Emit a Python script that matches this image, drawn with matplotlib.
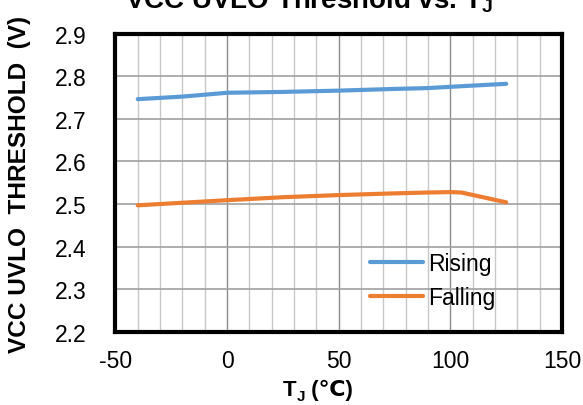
import matplotlib
matplotlib.use("Agg")
import matplotlib.pyplot as plt
from matplotlib.ticker import MultipleLocator

plt.rcParams['font.family'] = ['Liberation Sans', 'DejaVu Sans']
plt.rcParams['axes.unicode_minus'] = False
plt.rcParams['mathtext.fontset'] = 'custom'
plt.rcParams['mathtext.rm'] = 'Liberation Sans'
plt.rcParams['mathtext.bf'] = 'Liberation Sans:bold'

# Junction temperature (°C) and UVLO thresholds (V)
temp_rising = [-40, -20, 0, 25, 50, 75, 90, 100, 125]
rising = [2.746, 2.752, 2.761, 2.763, 2.766, 2.770, 2.772, 2.775, 2.782]

temp_falling = [-40, -20, 0, 25, 50, 75, 90, 100, 105, 125]
falling = [2.497, 2.503, 2.509, 2.516, 2.521, 2.525, 2.527, 2.528, 2.527, 2.504]

x_ticks = [-50, 0, 50, 100, 150]
y_ticks = [2.2, 2.3, 2.4, 2.5, 2.6, 2.7, 2.8, 2.9]

fig = plt.figure(figsize=(5.83, 4.06), dpi=100)
ax = fig.add_axes([0.198, 0.180, 0.766, 0.735])

ax.plot(temp_rising, rising, color='#5B9BD5', lw=3, label='Rising', solid_capstyle='round')
ax.plot(temp_falling, falling, color='#ED7D31', lw=3, label='Falling', solid_capstyle='round')

ax.set_xlim(-50, 150)
ax.set_ylim(2.2, 2.9)
ax.set_xticks(x_ticks)
ax.set_yticks(y_ticks)
ax.set_yticklabels([f"{v:.1f}" for v in y_ticks])
ax.xaxis.set_minor_locator(MultipleLocator(10))

ax.grid(which='minor', axis='x', color='#c8c8c8', lw=1.0)
ax.grid(which='major', axis='x', color='#8c8c8c', lw=1.0)
ax.grid(which='major', axis='y', color='#a0a0a0', lw=1.2)
ax.set_axisbelow(True)

ax.tick_params(which='both', length=0, labelsize=16.5)
ax.tick_params(axis='x', pad=12)
ax.tick_params(axis='y', pad=21)
for s in ax.spines.values():
    s.set_linewidth(3)
    s.set_color('black')

ax.set_ylabel("VCC UVLO  THRESHOLD  (V)", fontsize=17.6, fontweight='bold')
ax.yaxis.set_label_coords(-0.188, 0.497)

ax.legend(loc='center left', bbox_to_anchor=(0.570, 0.1725), frameon=False,
          fontsize=16.5, handlelength=2.3, handletextpad=0.25, labelspacing=0.45,
          borderpad=0, borderaxespad=0)

fig.text(0.530, 0.980, r"VCC UVLO Threshold vs. T$_\mathbf{J}$", ha='center', va='baseline',
         fontsize=20, fontweight='bold')

# x-axis title: T with subscript J, then the degree-Celsius sign
renderer = fig.canvas.get_renderer()
base_y = 0.0246
t_main = fig.text(0.0, base_y, "T", fontsize=16, fontweight='bold', va='baseline')
t_sub = fig.text(0.0, base_y - 0.012, "J", fontsize=11, fontweight='bold', va='baseline')
t_unit = fig.text(0.0, base_y, " (℃)", fontsize=16, fontweight='bold', va='baseline')
w_main = t_main.get_window_extent(renderer).width
w_sub = t_sub.get_window_extent(renderer).width
w_unit = t_unit.get_window_extent(renderer).width
total = w_main + w_sub + w_unit
x0 = 318 - total / 2
fw = fig.bbox.width
t_main.set_x(x0 / fw)
t_sub.set_x((x0 + w_main) / fw)
t_unit.set_x((x0 + w_main + w_sub) / fw)

fig.savefig("out.png", dpi=100)
